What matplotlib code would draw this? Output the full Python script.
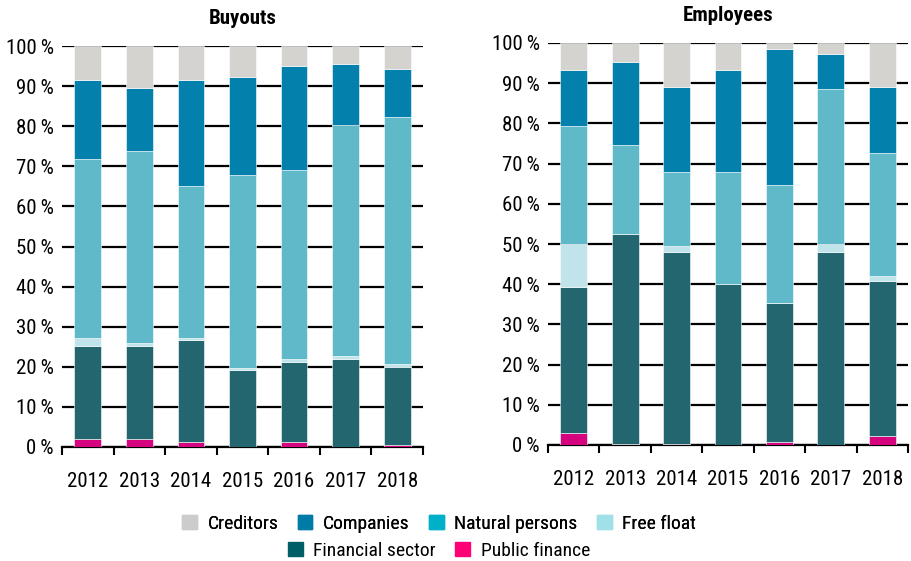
import matplotlib
matplotlib.use('Agg')
import matplotlib.pyplot as plt
from matplotlib.patches import Patch
import numpy as np

plt.rcParams['font.family'] = ['Roboto Condensed', 'DejaVu Sans']

years = ['2012', '2013', '2014', '2015', '2016', '2017', '2018']
series = ['Public finance', 'Financial sector', 'Free float', 'Natural persons', 'Companies', 'Creditors']

# shares in %, bottom to top
buyouts = {
    'Public finance':   [2.0, 2.0, 1.2, 0.0, 1.2, 0.0, 0.5],
    'Financial sector': [23.1, 23.1, 25.4, 19.3, 20.0, 21.9, 19.5],
    'Free float':       [2.1, 0.8, 0.6, 0.5, 0.7, 0.7, 0.6],
    'Natural persons':  [44.6, 47.9, 37.9, 48.0, 47.2, 57.8, 61.8],
    'Companies':        [19.7, 15.7, 26.4, 24.4, 25.8, 15.2, 11.8],
    'Creditors':        [8.5, 10.5, 8.5, 7.8, 5.1, 4.4, 5.8],
}
employees = {
    'Public finance':   [2.9, 0.2, 0.2, 0.0, 0.8, 0.0, 2.2],
    'Financial sector': [36.5, 52.4, 47.9, 40.1, 34.6, 48.1, 38.5],
    'Free float':       [10.7, 0.0, 1.4, 0.0, 0.0, 2.0, 1.4],
    'Natural persons':  [29.2, 22.1, 18.5, 27.9, 29.3, 38.5, 30.6],
    'Companies':        [13.9, 20.5, 21.1, 25.2, 33.8, 8.6, 16.4],
    'Creditors':        [6.8, 4.8, 10.9, 6.8, 1.5, 2.8, 10.9],
}

bar_colors = {
    'Public finance': '#d6037f', 'Financial sector': '#24666f', 'Free float': '#c0e4ea',
    'Natural persons': '#5fb9c9', 'Companies': '#0380ab', 'Creditors': '#d4d3cf',
}
legend_colors = {
    'Creditors': '#cccccc', 'Companies': '#007ba7', 'Natural persons': '#00b0c8',
    'Free float': '#a0e0e8', 'Financial sector': '#005f66', 'Public finance': '#ff0077',
}

fig = plt.figure(figsize=(9.11, 5.61), dpi=100)
ax1 = fig.add_axes([62 / 911, 1 - 447 / 561, 361 / 911, 401 / 561])
ax2 = fig.add_axes([548 / 911, 1 - 445 / 561, 360 / 911, 402 / 561])

x = np.arange(len(years))
for ax, data, title in [(ax1, buyouts, 'Buyouts'), (ax2, employees, 'Employees')]:
    bottom = np.zeros(len(years))
    for s in series:
        vals = np.array(data[s])
        ax.bar(x, vals, bottom=bottom, width=0.52, color=bar_colors[s],
               edgecolor='white', linewidth=0.4, zorder=3)
        bottom += vals
    ax.set_xlim(-0.5, 6.5)
    ax.set_ylim(0, 100)
    ax.set_yticks(range(0, 101, 10))
    ax.set_yticklabels([f'{v}\u2009%' for v in range(0, 101, 10)], fontsize=15)
    ax.yaxis.grid(True, color='black', linewidth=1.6, zorder=1)
    ax.set_axisbelow(True)
    ax.set_xticks(x)
    ax.set_xticklabels(years, fontsize=15)
    ax.set_xticks(np.arange(-0.5, 7, 1), minor=True)
    ax.tick_params(axis='x', which='major', length=0, pad=18)
    ax.tick_params(axis='x', which='minor', length=6, width=1.5, direction='out')
    ax.tick_params(axis='y', length=0, pad=6)
    for sp in ['left', 'right', 'top']:
        ax.spines[sp].set_visible(False)
    ax.spines['bottom'].set_linewidth(1.6)
    ax.set_title(title, fontsize=15, fontweight='bold', pad=16)

row1 = ['Creditors', 'Companies', 'Natural persons', 'Free float']
row2 = ['Financial sector', 'Public finance']
h1 = [Patch(color=legend_colors[s]) for s in row1]
h2 = [Patch(color=legend_colors[s]) for s in row2]
kw = dict(loc='center', frameon=False, fontsize=14, handlelength=0.75, handleheight=0.75,
          columnspacing=1.0, handletextpad=0.55, borderpad=0, borderaxespad=0)
leg1 = fig.legend(h1, row1, bbox_to_anchor=(0.482, 1 - 524 / 561), ncol=4, **kw)
fig.add_artist(leg1)
fig.legend(h2, row2, bbox_to_anchor=(0.482, 1 - 551 / 561), ncol=2, **kw)

fig.savefig('out.png', dpi=100)
